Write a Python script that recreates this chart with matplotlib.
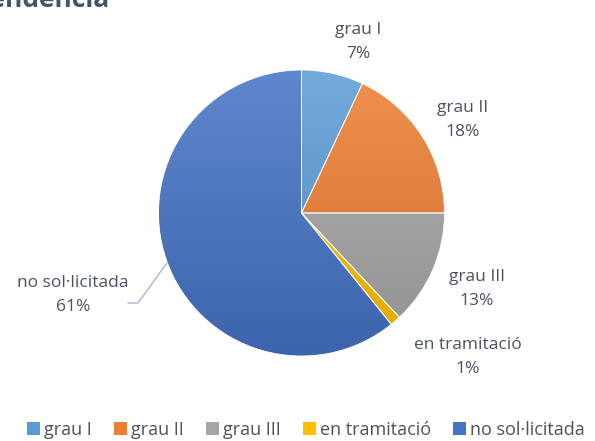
import matplotlib.pyplot as plt
import matplotlib.colors as mcolors
import numpy as np

categories = ['grau I', 'grau II', 'grau III', 'en tramitació', 'no sol·licitada']
values = [7, 18, 13, 1.2, 60.8]
pct_labels = ['7%', '18%', '13%', '1%', '61%']
colors = ['#5B9BD5', '#ED7D31', '#A5A5A5', '#FFC000', '#4472C4']

plt.rcParams['font.family'] = ['Open Sans', 'DejaVu Sans']
text_color = '#4a5262'

W, H = 595, 441
fig = plt.figure(figsize=(W / 100, H / 100), dpi=100)

cx, cy, r = 301.5, 213, 143
ax = fig.add_axes([(cx - r) / W, (H - cy - r) / H, 2 * r / W, 2 * r / H])
wedges, _ = ax.pie(values, colors=colors, startangle=90, counterclock=False,
                   radius=1, center=(0, 0),
                   wedgeprops=dict(edgecolor='white', linewidth=0.6))
ax.set_aspect('equal')
ax.axis('off')

# light-to-dark vertical gradient on each slice
grad = np.linspace(0, 1, 256).reshape(-1, 1)
for w, c in zip(wedges, colors):
    base = np.array(mcolors.to_rgb(c))
    light = base + (1 - base) * 0.15
    dark = base * 0.88
    cmap = mcolors.LinearSegmentedColormap.from_list('g', [dark, light])
    im = ax.imshow(grad, cmap=cmap, extent=(-1, 1, -1, 1), origin='lower',
                   aspect='auto', zorder=w.get_zorder() + 0.1)
    im.set_clip_path(w)
    w.set_facecolor('none')
    w.set_zorder(w.get_zorder() + 0.2)
ax.set_xlim(-1, 1)
ax.set_ylim(-1, 1)

# data labels (pixel positions from the reference)
label_pos = [(358, 42), (463, 120), (477, 289), (468, 357), (73, 295)]
for cat, p, (x, y) in zip(categories, pct_labels, label_pos):
    fig.text(x / W, 1 - y / H, f'{cat}\n{p}', ha='center', va='center',
             fontsize=12.5, color=text_color, linespacing=1.6)

# leader line for the big slice
fig.add_artist(plt.Line2D([128 / W, 138 / W, 167 / W],
                          [1 - 303 / H, 1 - 303 / H, 1 - 263 / H],
                          color='#a9b6c8', lw=1))

# cut-off title
fig.text(110 / W, 1 - 7 / H, 'Dependència', ha='right', va='baseline',
         fontsize=19, fontweight='bold', color='#44546A')

handles = [plt.Rectangle((0, 0), 1, 1, facecolor=c) for c in colors]
fig.legend(handles, categories, loc='center', bbox_to_anchor=(306 / W, 1 - 430 / H),
           ncol=5, frameon=False, fontsize=13, labelcolor=text_color,
           handlelength=0.72, handleheight=0.72, handletextpad=0.2,
           columnspacing=1.25, borderpad=0, borderaxespad=0)

fig.savefig('out.png', dpi=100)
